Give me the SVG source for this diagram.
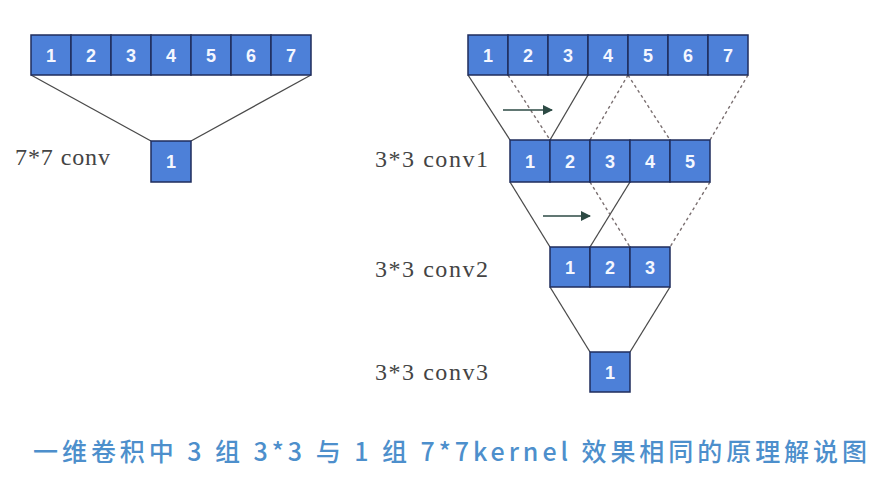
<svg xmlns="http://www.w3.org/2000/svg" width="883" height="496" viewBox="0 0 883 496">
<defs>
<marker id="ah" viewBox="0 0 10 10" refX="9" refY="5" markerWidth="12" markerHeight="10" markerUnits="userSpaceOnUse" orient="auto">
<path d="M0,0 L10,5 L0,10 z" fill="#2d4a44"/>
</marker>
<style>
.c{fill:#4d80d8;stroke:#1f2d5c;stroke-width:1.5}
.n{font-family:"Liberation Sans",Arial,sans-serif;font-size:18px;font-weight:bold;fill:#f4f7ff;text-anchor:middle}
.s{stroke:#4a4a4a;stroke-width:1.3;fill:none}
.d{stroke:#7a6f70;stroke-width:1.4;fill:none;stroke-dasharray:3,3}
.a{stroke:#2d4a44;stroke-width:1.6;fill:none;marker-end:url(#ah)}
.l{font-family:"Liberation Serif","Times New Roman",serif;font-size:24px;fill:#444}
.cap{font-family:"Noto Sans CJK SC","Noto Sans",sans-serif;font-size:25px;font-weight:500;fill:#4d8fcc}
</style>
</defs>
<rect width="883" height="496" fill="#fff"/>

<g id="connectors">
<line class="s" x1="31" y1="75" x2="151" y2="141"/>
<line class="s" x1="311" y1="75" x2="191" y2="141"/>

<line class="s" x1="468" y1="75" x2="510" y2="140"/>
<line class="s" x1="588" y1="75" x2="550" y2="140"/>
<line class="d" x1="508" y1="75" x2="550" y2="140"/>
<line class="d" x1="628" y1="75" x2="590" y2="140"/>
<line class="d" x1="628" y1="75" x2="670" y2="140"/>
<line class="d" x1="748" y1="75" x2="710" y2="140"/>

<line class="s" x1="510" y1="182" x2="550" y2="247"/>
<line class="s" x1="630" y1="182" x2="590" y2="247"/>
<line class="d" x1="590" y1="182" x2="630" y2="247"/>
<line class="d" x1="710" y1="182" x2="670" y2="247"/>

<line class="s" x1="550" y1="287" x2="590" y2="352"/>
<line class="s" x1="670" y1="287" x2="630" y2="352"/>

<line class="a" x1="503" y1="110" x2="552" y2="110"/>
<line class="a" x1="543" y1="216" x2="590" y2="216"/>
</g>

<g id="left-input">
<rect class="c" x="31" y="35" width="40" height="40"/><text class="n" x="51" y="62">1</text>
<rect class="c" x="71" y="35" width="40" height="40"/><text class="n" x="91" y="62">2</text>
<rect class="c" x="111" y="35" width="40" height="40"/><text class="n" x="131" y="62">3</text>
<rect class="c" x="151" y="35" width="40" height="40"/><text class="n" x="171" y="62">4</text>
<rect class="c" x="191" y="35" width="40" height="40"/><text class="n" x="211" y="62">5</text>
<rect class="c" x="231" y="35" width="40" height="40"/><text class="n" x="251" y="62">6</text>
<rect class="c" x="271" y="35" width="40" height="40"/><text class="n" x="291" y="62">7</text>
</g>

<g id="left-output">
<rect class="c" x="151" y="141" width="40" height="41"/><text class="n" x="171" y="168">1</text>
<text class="l" x="15" y="165" textLength="95" lengthAdjust="spacing">7*7 conv</text>
</g>

<g id="right-input">
<rect class="c" x="468" y="35" width="40" height="40"/><text class="n" x="488" y="62">1</text>
<rect class="c" x="508" y="35" width="40" height="40"/><text class="n" x="528" y="62">2</text>
<rect class="c" x="548" y="35" width="40" height="40"/><text class="n" x="568" y="62">3</text>
<rect class="c" x="588" y="35" width="40" height="40"/><text class="n" x="608" y="62">4</text>
<rect class="c" x="628" y="35" width="40" height="40"/><text class="n" x="648" y="62">5</text>
<rect class="c" x="668" y="35" width="40" height="40"/><text class="n" x="688" y="62">6</text>
<rect class="c" x="708" y="35" width="40" height="40"/><text class="n" x="728" y="62">7</text>
</g>

<g id="conv1">
<rect class="c" x="510" y="140" width="40" height="42"/><text class="n" x="530" y="168">1</text>
<rect class="c" x="550" y="140" width="40" height="42"/><text class="n" x="570" y="168">2</text>
<rect class="c" x="590" y="140" width="40" height="42"/><text class="n" x="610" y="168">3</text>
<rect class="c" x="630" y="140" width="40" height="42"/><text class="n" x="650" y="168">4</text>
<rect class="c" x="670" y="140" width="40" height="42"/><text class="n" x="690" y="168">5</text>
<text class="l" x="375" y="167" textLength="113" lengthAdjust="spacing">3*3 conv1</text>
</g>

<g id="conv2">
<rect class="c" x="550" y="247" width="40" height="40"/><text class="n" x="570" y="274">1</text>
<rect class="c" x="590" y="247" width="40" height="40"/><text class="n" x="610" y="274">2</text>
<rect class="c" x="630" y="247" width="40" height="40"/><text class="n" x="650" y="274">3</text>
<text class="l" x="375" y="277" textLength="113" lengthAdjust="spacing">3*3 conv2</text>
</g>

<g id="conv3">
<rect class="c" x="590" y="352" width="40" height="40"/><text class="n" x="610" y="379">1</text>
<text class="l" x="375" y="380" textLength="113" lengthAdjust="spacing">3*3 conv3</text>
</g>

<g id="caption">
<text class="cap" x="33" y="461" textLength="834" lengthAdjust="spacing">一维卷积中 3 组 3*3 与 1 组 7*7kernel 效果相同的原理解说图</text>
</g>
</svg>
